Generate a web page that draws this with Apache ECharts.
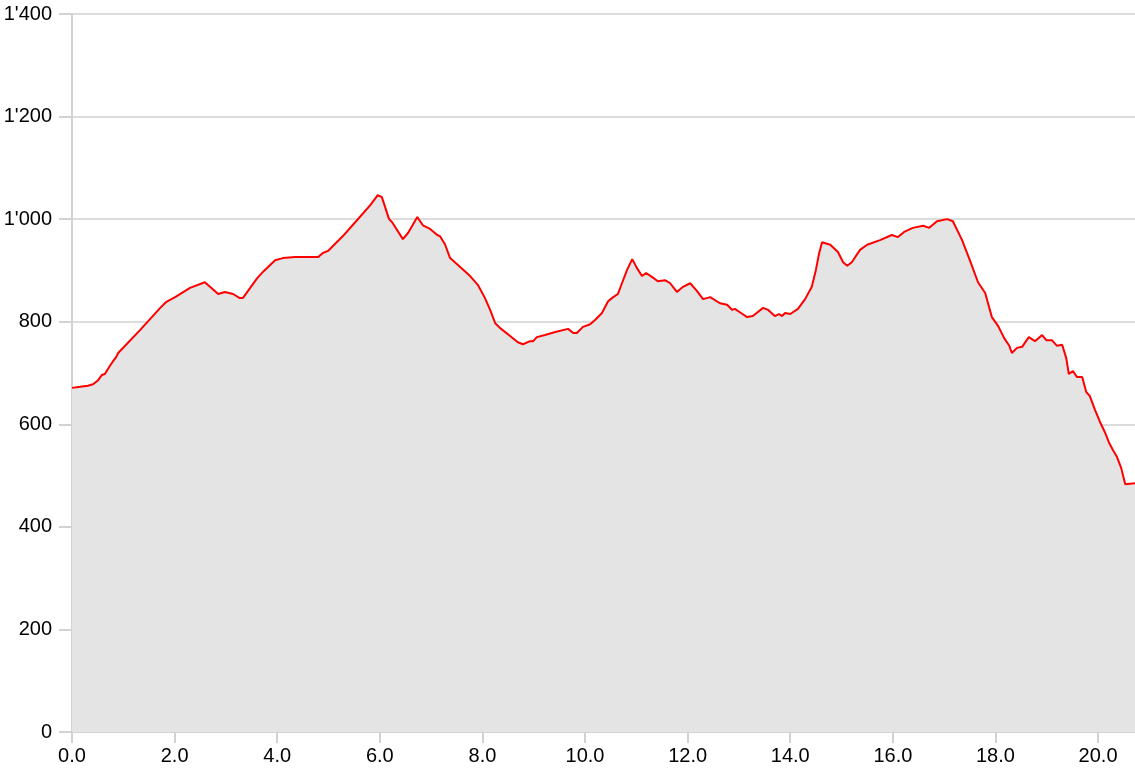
<!DOCTYPE html>
<html>
<head>
<meta charset="utf-8">
<script src="https://cdn.jsdelivr.net/npm/echarts@6/dist/echarts.min.js"></script>
<style>
    html, body { margin: 0; padding: 0; background: #fff; }
    #chart { width: 1135px; height: 770px; }
</style>
</head>
<body>
<div id="chart"></div>
<script>
    // distance (km) and elevation (m)
    const distance = [
        0.00, 0.16, 0.31, 0.41, 0.51, 0.58, 0.64, 0.74, 0.80, 0.86, 0.90, 1.33, 1.72, 1.83, 2.01, 2.30, 2.59, 2.85, 2.98, 3.14,
        3.27, 3.33, 3.61, 3.74, 3.96, 4.11, 4.35, 4.54, 4.80, 4.89, 4.99, 5.28, 5.52, 5.81, 5.96, 6.04, 6.18, 6.24, 6.45, 6.55,
        6.73, 6.84, 6.98, 7.12, 7.17, 7.27, 7.37, 7.56, 7.76, 7.91, 8.05, 8.15, 8.25, 8.34, 8.54, 8.69, 8.79, 8.93, 8.99, 9.06,
        9.22, 9.42, 9.67, 9.77, 9.84, 9.96, 10.10, 10.19, 10.33, 10.45, 10.55, 10.64, 10.72, 10.82, 10.92, 11.01, 11.11, 11.19, 11.31, 11.42,
        11.56, 11.66, 11.79, 11.91, 12.05, 12.18, 12.30, 12.44, 12.63, 12.77, 12.87, 12.92, 13.04, 13.16, 13.27, 13.37, 13.47, 13.57, 13.70, 13.78,
        13.84, 13.90, 14.00, 14.15, 14.29, 14.42, 14.50, 14.56, 14.62, 14.78, 14.93, 15.03, 15.11, 15.20, 15.36, 15.50, 15.75, 15.98, 16.10, 16.22,
        16.39, 16.59, 16.71, 16.86, 17.06, 17.17, 17.35, 17.50, 17.66, 17.80, 17.88, 17.93, 18.05, 18.17, 18.27, 18.32, 18.42, 18.52, 18.65, 18.77,
        18.91, 18.99, 19.10, 19.20, 19.30, 19.38, 19.43, 19.51, 19.59, 19.69, 19.77, 19.84, 19.94, 20.04, 20.14, 20.21, 20.29, 20.37, 20.45, 20.53,
        20.72
    ]
    const elevation = [
        671, 673, 675, 678, 686, 696, 698, 714, 723, 731, 739, 784, 827, 838, 848, 866, 877, 854, 858, 854,
        846, 846, 885, 899, 920, 924, 926, 926, 926, 934, 938, 967, 994, 1027, 1047, 1043, 1000, 994, 961, 973,
        1004, 988, 981, 969, 967, 951, 924, 907, 889, 872, 846, 823, 797, 788, 772, 760, 756, 762, 762, 770,
        774, 780, 786, 778, 778, 790, 795, 803, 817, 840, 848, 854, 875, 901, 922, 905, 889, 895, 887, 879,
        881, 875, 858, 868, 875, 860, 844, 848, 836, 833, 823, 825, 817, 809, 811, 819, 827, 823, 811, 815,
        811, 817, 815, 825, 844, 868, 901, 932, 955, 950, 936, 916, 909, 916, 940, 950, 959, 969, 965, 975,
        983, 987, 983, 996, 1000, 996, 959, 920, 877, 856, 827, 809, 792, 768, 753, 739, 749, 751, 770, 762,
        774, 764, 764, 753, 755, 729, 698, 704, 692, 692, 663, 655, 628, 604, 583, 565, 550, 536, 515, 483,
        485
    ]
    const xTicks = [0, 2, 4, 6, 8, 10, 12, 14, 16, 18, 20]
    const yTicks = [0, 200, 400, 600, 800, 1000, 1200, 1400]

    const fmtThousands = v => String(v).replace(/\B(?=(\d{3})+(?!\d))/g, "'")

    const chart = echarts.init(document.getElementById('chart'))
    chart.setOption({
        animation: false,
        grid: { left: 72, right: 0, top: 14, bottom: 38, containLabel: false },
        xAxis: {
            type: 'value',
            min: 0,
            max: distance[distance.length - 1],
            axisLine: { show: true, lineStyle: { color: '#d2d2d2', width: 2 } },
            axisTick: { show: true, length: 11, customValues: xTicks, lineStyle: { color: '#d2d2d2', width: 2 } },
            axisLabel: {
                customValues: xTicks,
                formatter: v => v.toFixed(1),
                color: '#000',
                fontFamily: 'Liberation Sans, Arial, sans-serif',
                fontSize: 20,
                margin: 14
            },
            splitLine: { show: false }
        },
        yAxis: {
            type: 'value',
            min: yTicks[0],
            max: yTicks[yTicks.length - 1],
            interval: 200,
            axisLine: { show: true, lineStyle: { color: '#d2d2d2', width: 2 } },
            axisTick: { show: true, length: 13, lineStyle: { color: '#d2d2d2', width: 2 } },
            axisLabel: {
                formatter: v => fmtThousands(v),
                color: '#000',
                fontFamily: 'Liberation Sans, Arial, sans-serif',
                fontSize: 20,
                margin: 20
            },
            splitLine: { show: true, lineStyle: { color: '#dcdcdc', width: 2 } }
        },
        series: [{
            type: 'line',
            data: distance.map((d, i) => [d, elevation[i]]),
            symbol: 'none',
            lineStyle: { color: '#ff0000', width: 2 },
            areaStyle: { color: '#e4e4e4', opacity: 1 },
            z: 3
        }]
    })
</script>
</body>
</html>
